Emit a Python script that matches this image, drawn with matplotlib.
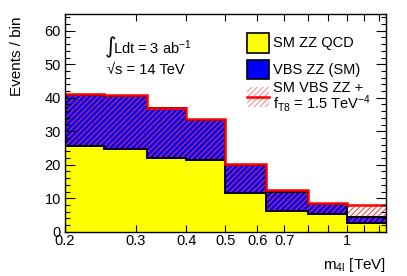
import matplotlib
matplotlib.use("Agg")
import matplotlib.pyplot as plt
from matplotlib.patches import Rectangle
from matplotlib.lines import Line2D

plt.rcParams['font.family'] = ['Liberation Sans', 'DejaVu Sans']
plt.rcParams['mathtext.fontset'] = 'custom'
plt.rcParams['mathtext.rm'] = 'Liberation Sans'
plt.rcParams['mathtext.it'] = 'Liberation Sans'
plt.rcParams['hatch.linewidth'] = 0.7

# bin edges in TeV (log spaced)
edges = [0.2, 0.25, 0.32, 0.4, 0.5, 0.63, 0.8, 1.0, 1.25]
# events per bin
qcd = [25.5, 24.8, 21.9, 21.5, 11.6, 6.3, 5.3, 2.7]
vbs_sm = [15.3, 15.7, 14.9, 11.9, 8.4, 5.7, 3.1, 1.6]
vbs_bsm = [15.5, 15.9, 15.1, 12.1, 8.7, 6.2, 3.3, 5.3]

xtick_vals = [0.2, 0.3, 0.4, 0.5, 0.6, 0.7, 0.8, 0.9, 1.0, 1.1, 1.2]
xtick_labels = ['0.2', '0.3', '0.4', '0.5', '0.6', '0.7', '', '', '1', '', '']

sm_total = [a + b for a, b in zip(qcd, vbs_sm)]
bsm_total = [a + b for a, b in zip(qcd, vbs_bsm)]

fig = plt.figure(figsize=(4.07, 2.76), dpi=100)
W, H = 407.0, 276.0
ax = fig.add_axes([65 / W, 1 - 231.7 / H, (386 - 65) / W, (231.7 - 14) / H])

# stacked SM histograms
ax.stairs(qcd, edges, baseline=0, fill=True, color='#ffff00', lw=0)
ax.stairs(sm_total, edges, baseline=qcd, fill=True, color='#0000ff', lw=0)

# BSM VBS on top of QCD, red hatch
ax.stairs(bsm_total, edges, baseline=qcd, fill=True, facecolor='none',
          edgecolor='#ff3030', hatch='//////', lw=0)

ax.stairs(qcd, edges, baseline=None, color='black', lw=1.4)
ax.stairs(sm_total, edges, baseline=None, color='black', lw=1.4)
ax.stairs(bsm_total, edges, baseline=None, color='red', lw=1.8)

ax.set_xscale('log')
ax.set_xlim(0.2, 1.25)
ax.set_ylim(0, 65)

ax.set_xticks(xtick_vals)
ax.set_xticklabels(xtick_labels)
ax.xaxis.set_minor_locator(matplotlib.ticker.NullLocator())
ax.set_yticks(range(0, 70, 10))
ax.yaxis.set_minor_locator(matplotlib.ticker.MultipleLocator(2))

ax.tick_params(which='both', direction='in', top=True, right=True, labelsize=10.5)
ax.tick_params(axis='y', which='major', length=7, width=0.8, pad=3)
ax.tick_params(axis='y', which='minor', length=3.5, width=0.8)
ax.tick_params(axis='x', which='major', length=5, width=0.8, pad=2)
for s in ax.spines.values():
    s.set_linewidth(1.0)

# axis titles
fig.text(17 / W, 1 - 16 / H, 'Events / bin', rotation=90, ha='center', va='top', fontsize=11)
fig.text(386 / W, 1 - 265 / H, r'm$_{4l}$ [TeV]', ha='right', va='center', fontsize=11)

# lumi / energy labels
fig.text(105 / W, 1 - 47 / H, '\u222b', ha='left', va='center', fontsize=16,
         family=['DejaVu Sans'])
fig.text(113 / W, 1 - 48 / H, r'Ldt = 3 ab$^{-1}$', ha='left', va='center', fontsize=10.5)
fig.text(107 / W, 1 - 70 / H, '\u221as = 14 TeV', ha='left', va='center', fontsize=10.5)

# legend drawn by hand
def fbox(y0, y1, **kw):
    r = Rectangle((247 / W, 1 - y1 / H), 22 / W, (y1 - y0) / H,
                  transform=fig.transFigure, **kw)
    fig.add_artist(r)

fbox(33, 53, facecolor='#ffff00', edgecolor='black', lw=1.2)
fbox(60, 79, facecolor='#0000ff', edgecolor='black', lw=1.2)
fbox(87, 107, facecolor='white', edgecolor='#ff8080', hatch='//////', lw=0)
fig.add_artist(Line2D([247 / W, 269 / W], [1 - 97 / H, 1 - 97 / H],
                      transform=fig.transFigure, color='red', lw=1.8))

fig.text(273 / W, 1 - 43 / H, 'SM ZZ QCD', ha='left', va='center', fontsize=10.5)
fig.text(273 / W, 1 - 70 / H, 'VBS ZZ (SM)', ha='left', va='center', fontsize=10.5)
fig.text(273 / W, 1 - 88 / H, 'SM VBS ZZ +', ha='left', va='center', fontsize=10.5)
fig.text(273 / W, 1 - 104 / H, r'f$_{T8}$ = 1.5 TeV$^{-4}$', ha='left', va='center', fontsize=10.5)

fig.savefig('out.png', dpi=100)
